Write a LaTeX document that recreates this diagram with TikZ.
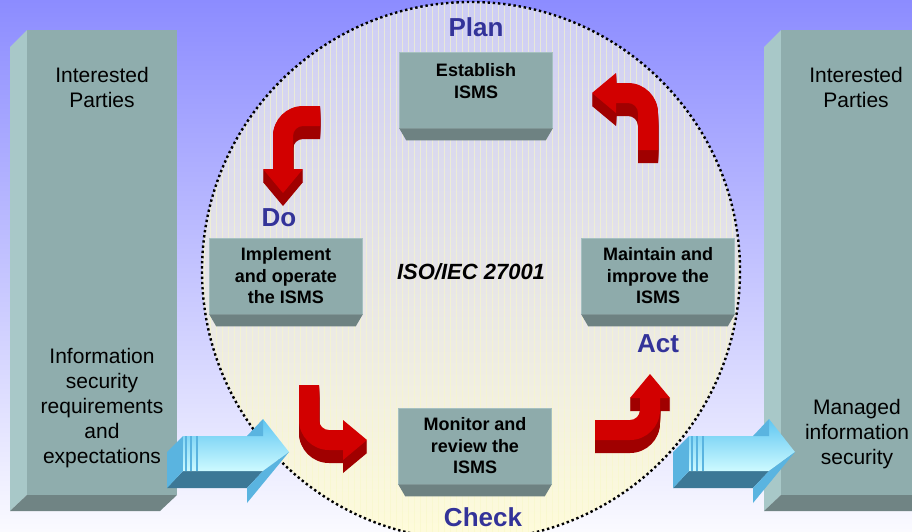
\documentclass[tikz,border=0pt]{standalone}
\usepackage{fontspec}
\setmainfont{Liberation Sans}
\usepackage{xcolor}
\usetikzlibrary{positioning}

\definecolor{bgtop}{RGB}{140,140,255}
\definecolor{bgbot}{RGB}{250,250,255}
\definecolor{circtop}{RGB}{205,205,245}
\definecolor{circbot}{RGB}{255,252,218}
\definecolor{gridline}{RGB}{248,248,200}
\definecolor{pillarface}{RGB}{143,173,173}
\definecolor{pillarside}{RGB}{168,200,200}
\definecolor{pillarbottom}{RGB}{112,132,132}
\definecolor{boxface}{RGB}{142,171,171}
\definecolor{boxedge}{RGB}{165,192,192}
\definecolor{boxshade}{RGB}{110,130,130}
\definecolor{phaseblue}{RGB}{51,51,153}
\definecolor{arrowred}{RGB}{210,0,0}
\definecolor{arrowdark}{RGB}{160,0,0}
\definecolor{bluetop}{RGB}{95,198,242}
\definecolor{bluebot}{RGB}{205,250,255}
\definecolor{bluemid}{RGB}{90,180,224}
\definecolor{bluedark}{RGB}{60,120,150}

\begin{document}
\begin{tikzpicture}[x=1pt, y=-1pt,
    pillar/.style={rectangle, fill=pillarface, minimum width=150pt, minimum height=465pt, inner sep=0pt, anchor=north west},
    pillartext/.style={align=center, inner sep=0pt, font=\fontsize{21}{25}\selectfont},
    stage/.style={rectangle, fill=boxface, draw=boxedge, line width=0.6pt, minimum width=153pt, minimum height=76pt, align=center, inner sep=0pt, font=\fontsize{18}{21.5}\selectfont\bfseries},
    phase/.style={inner sep=0pt, text=phaseblue, font=\fontsize{26}{30}\selectfont\bfseries},
    dotline/.style={line width=2.4pt, dash pattern=on 2.4pt off 2.8pt}]

    % background
    \useasboundingbox (0,0) rectangle (912,531);
    \shade[top color=bgtop, bottom color=bgbot] (0,0) rectangle (912,531);

    % the PDCA circle
    \shade[top color=circtop, bottom color=circbot] (471,271) circle (269);
    \begin{scope}
        \clip (471,271) circle (269);
        \draw[gridline, opacity=0.6, line width=0.7pt, step=6] (200,0) grid (744,546);
    \end{scope}
    \draw[dotline] (471,271) circle (269);

    % pillars
    \foreach \dx in {0,754} {
        \fill[pillarside] (10+\dx,47) -- (27+\dx,30) -- (27+\dx,495) -- (10+\dx,511) -- cycle;
        \fill[pillarbottom] (27+\dx,495) -- (177+\dx,495) -- (160+\dx,511) -- (10+\dx,511) -- cycle;
    }
    \node[pillar] (lpillar) at (27,30) {};
    \node[pillar] (rpillar) at (781,30) {};

    \node[pillartext] (lparties) at (102,87) {Interested\\Parties};
    \node[pillartext] (lneeds) at (102,408) {Information\\security\\requirements\\and\\expectations};
    \node[pillartext] (rparties) at (856,87) {Interested\\Parties};
    \node[pillartext] (rmanaged) at (857,434) {Managed\\information\\security};

    % blue input / output arrows
    \foreach \dx in {0,506} {
        \begin{scope}[shift={(\dx,0)}]
            \fill[bluedark] (183,471) -- (263,471) -- (247,488) -- (167,488) -- cycle;
            \fill[bluemid] (167,452) -- (183,436) -- (183,471) -- (167,488) -- cycle;
            \shade[top color=bluetop, bottom color=bluebot] (183,436) -- (263,436) -- (263,419) -- (289,452) -- (263,471) -- (183,471) -- cycle;
            \fill[bluemid] (247,436) -- (263,419) -- (263,436) -- cycle;
            \fill[bluemid] (263,471) -- (289,452) -- (247,503) -- (247,488) -- cycle;
            \foreach \sx in {186,191,197}
                \draw[bluemid, line width=1.2pt] (\sx,436) -- (\sx,471);
        \end{scope}
    }

    % process stages
    \node[stage, text depth=18pt] (est) at (476,90) {Establish\\ISMS};
    \node[stage] (impl) at (286,276) {Implement\\and operate\\the ISMS};
    \node[stage] (mnt) at (658,276) {Maintain and\\improve the\\ISMS};
    \node[stage] (mon) at (475,446) {Monitor and\\review the\\ISMS};
    \foreach \b in {est,impl,mnt,mon}
        \fill[boxshade] (\b.south west) -- (\b.south east) -- ([shift={(-7,12)}]\b.south east) -- ([shift={(7,12)}]\b.south west) -- cycle;

    % red cycle arrows
    \foreach \px/\py/\rot/\la/\lb in {648/150/0/37/12, 320/116/90/17/33, 309/385/180/35/14, 595/430/270/35/12}
        \foreach \col/\dy in {arrowdark/13, arrowdark/12, arrowdark/11, arrowdark/10, arrowdark/9, arrowdark/8, arrowdark/7,
                              arrowdark/6, arrowdark/5, arrowdark/4, arrowdark/3, arrowdark/2, arrowdark/1, arrowred/0}
            \fill[fill=\col, shift={(\px,\py+\dy)}, x=1pt, y=1pt, rotate=\rot]
                (10,0) -- (10,\la) arc[start angle=0, end angle=90, radius=30] -- ++(-\lb,0) -- ++(0,10)
                -- ++(-24,-20) -- ++(24,-20) -- ++(0,10) -- ++(\lb,0)
                arc[start angle=90, end angle=0, radius=10] -- (-10,0) -- cycle;

    % phase labels
    \node[phase, above=14.5pt of est] (plan) {Plan};
    \node[phase, above=10.5pt of impl, xshift=-7pt] (do) {Do};
    \node[phase, below=20.5pt of mnt] (act) {Act};
    \node[phase, below=23.5pt of mon, xshift=8pt] (check) {Check};

    \node[font=\fontsize{22}{26}\selectfont\bfseries\itshape] (iso) at (471,272) {ISO/IEC 27001};
\end{tikzpicture}
\end{document}
